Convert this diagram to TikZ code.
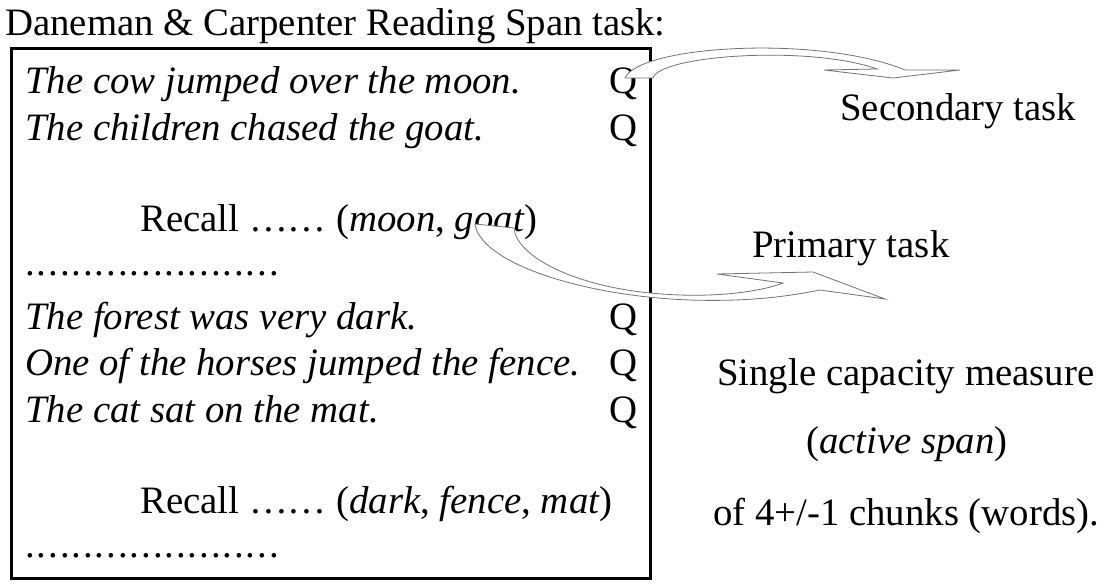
\documentclass[tikz,border=0pt]{standalone}
\usepackage{fontspec}
\setmainfont{Liberation Serif}
\newfontfamily\dotfont[LetterSpace=4.95]{Liberation Serif}
\begin{document}
\begin{tikzpicture}[x=1pt,y=-1pt,
  txt/.style={anchor=base west,inner sep=0pt,font=\fontsize{38.8}{46}\selectfont},
  boxframe/.style={draw=black,line width=3pt},
  blockarrow/.style={draw=black!55,line width=0.8pt,fill=white,line join=miter}]
\useasboundingbox (0,0) rectangle (1119,588);
\node[txt] (title) at (5,36) {Daneman \& Carpenter Reading Span task:};
\draw[boxframe] (11,49) rectangle (650,578);
% sentences
\node[txt] (s1) at (25,94) {\itshape The cow jumped over the moon.};
\node[txt] (s2) at (25,141) {\itshape The children chased the goat.};
\node[txt] (r1) at (140,232) {Recall …… (\textit{moon}, \textit{goat})};
\node[txt] (d1) at (25,275) {\dotfont ......................};
\node[txt] (s3) at (25,329) {\itshape The forest was very dark.};
\node[txt] (s4) at (25,375) {\itshape One of the horses jumped the fence.};
\node[txt] (s5) at (25,422) {\itshape The cat sat on the mat.};
\node[txt] (r2) at (140,513) {Recall …… (\textit{dark}, \textit{fence}, \textit{mat})};
\node[txt] (d2) at (25,557) {\dotfont ......................};
\foreach \y/\n in {94/1,141/2,329/3,375/4,422/5}
  \node[txt] (q\n) at (609,\y) {Q};
% right side
\node[txt] (sec) at (840,121) {Secondary task};
\node[txt] (pri) at (752,258) {Primary task};
\node[txt] (m1) at (717,385) {Single capacity measure};
\node[txt] (m2) at (806,453) {(\textit{active span})};
\node[txt] (m3) at (713,525) {of 4+/-1 chunks (words).};
% secondary arrow
\draw[blockarrow] (625,78) .. controls (640,45) and (820,35) .. (905,70)
  -- (960,70) -- (893,78) -- (824,70) -- (877,69)
  .. controls (810,45) and (660,55) .. (653,78) -- cycle;
% primary arrow
\draw[blockarrow] (475,224) .. controls (480,262) and (580,296) .. (690,300)
  .. controls (750,302) and (790,296) .. (820,290)
  -- (885,299) -- (813,272) -- (717,274) -- (783,283)
  .. controls (760,292) and (710,299) .. (650,293)
  .. controls (570,285) and (516,255) .. (514,228) -- cycle;
\end{tikzpicture}
\end{document}
